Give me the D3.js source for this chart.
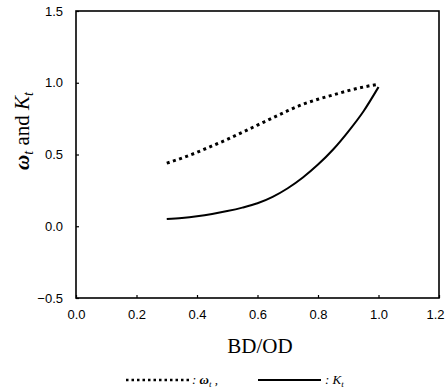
<!DOCTYPE html>
<html>
<head>
<meta charset="utf-8">
<script src="https://cdn.jsdelivr.net/npm/d3@7"></script>
<style>
  body { margin: 0; background: #fff; }
  .axis text { font-family: "Liberation Sans", Arial, sans-serif; font-size: 13px; fill: #000; }
  .axis path { display: none; }
  .axis line { stroke: #000; stroke-width: 1.2; }
</style>
</head>
<body>
<svg id="graph"></svg>
<script>
// values
var bdod   = [0.3, 0.35, 0.4, 0.45, 0.5, 0.55, 0.6, 0.65, 0.7, 0.75, 0.8, 0.85, 0.9, 0.95, 1.0];
var omega  = [0.44, 0.475, 0.515, 0.56, 0.605, 0.655, 0.705, 0.755, 0.805, 0.85, 0.885, 0.915, 0.945, 0.97, 0.99];
var kt     = [0.05, 0.058, 0.07, 0.086, 0.106, 0.13, 0.16, 0.205, 0.265, 0.34, 0.43, 0.535, 0.66, 0.80, 0.97];
var xTicks = [0, 0.2, 0.4, 0.6, 0.8, 1.0, 1.2];
var yTicks = [-0.5, 0, 0.5, 1.0, 1.5];

var svg = d3.select("#graph")
    .attr("width", 445)
    .attr("height", 392);

// plot frame in pixels (note: "top" is taken by window.top, so pTop etc.)
var pLeft = 76, pRight = 439, pTop = 11, pBottom = 298;

var x = d3.scaleLinear().domain([0, 1.2]).range([pLeft, pRight]);
var y = d3.scaleLinear().domain([-0.5, 1.5]).range([pBottom, pTop]);

// frame
svg.append("rect")
    .attr("x", pLeft).attr("y", pTop)
    .attr("width", pRight - pLeft).attr("height", pBottom - pTop)
    .attr("fill", "none").attr("stroke", "#000").attr("stroke-width", 1.6);

// x axis, ticks pointing inward
var gx = svg.append("g")
    .attr("class", "axis")
    .attr("transform", "translate(0," + pBottom + ")")
    .call(d3.axisBottom(x).tickValues(xTicks).tickFormat(d3.format(".1f"))
        .tickSizeInner(-3).tickSizeOuter(0).tickPadding(12));
// last label sits tight to the right edge
gx.selectAll(".tick text").filter(function(d) { return d === 1.2; })
    .attr("dx", -4);

// y axis
svg.append("g")
    .attr("class", "axis")
    .attr("transform", "translate(" + pLeft + ",0)")
    .call(d3.axisLeft(y).tickValues(yTicks).tickFormat(d3.format(".1f"))
        .tickSizeInner(-3).tickSizeOuter(0).tickPadding(13));

// axis titles
svg.append("text")
    .attr("x", 260).attr("y", 353)
    .attr("text-anchor", "middle")
    .style("font-family", "'Liberation Serif', 'Times New Roman', serif")
    .style("font-size", "21px")
    .text("BD/OD");

var yt = svg.append("text")
    .attr("transform", "translate(29,131) rotate(-90)")
    .attr("text-anchor", "middle")
    .style("font-family", "'Liberation Serif', 'Times New Roman', serif")
    .style("font-size", "21px");
yt.append("tspan").style("font-style", "italic").style("font-weight", "bold").text("ω");
yt.append("tspan").attr("dy", 4).style("font-size", "14px").style("font-style", "italic").text("t");
yt.append("tspan").attr("dy", -4).text(" and ");
yt.append("tspan").style("font-style", "italic").text("K");
yt.append("tspan").attr("dy", 4).style("font-size", "14px").style("font-style", "italic").text("t");

// curves
var line = d3.line()
    .x(function(d, i) { return x(bdod[i]); })
    .y(function(d) { return y(d); })
    .curve(d3.curveMonotoneX);

svg.append("path")
    .datum(omega)
    .attr("d", line)
    .attr("fill", "none").attr("stroke", "#000")
    .attr("stroke-width", 3).attr("stroke-dasharray", "3,3.5");

svg.append("path")
    .datum(kt)
    .attr("d", line)
    .attr("fill", "none").attr("stroke", "#000")
    .attr("stroke-width", 2);

// legend
var lg = svg.append("g").attr("transform", "translate(0,380)");
lg.append("line")
    .attr("x1", 126).attr("x2", 189).attr("y1", 0).attr("y2", 0)
    .attr("stroke", "#000").attr("stroke-width", 2.5).attr("stroke-dasharray", "2.5,3");
var l1 = lg.append("text").attr("x", 192).attr("y", 4)
    .style("font-family", "'Liberation Serif', 'Times New Roman', serif")
    .style("font-size", "13px").style("font-style", "italic");
l1.append("tspan").text(": ");
l1.append("tspan").style("font-weight", "bold").text("ω");
l1.append("tspan").attr("dy", 3).style("font-size", "9px").text("t");
l1.append("tspan").attr("dy", -3).text(" ,");

lg.append("line")
    .attr("x1", 258).attr("x2", 321).attr("y1", 0).attr("y2", 0)
    .attr("stroke", "#000").attr("stroke-width", 1.8);
var l2 = lg.append("text").attr("x", 325).attr("y", 4)
    .style("font-family", "'Liberation Serif', 'Times New Roman', serif")
    .style("font-size", "13px").style("font-style", "italic");
l2.append("tspan").text(": K");
l2.append("tspan").attr("dy", 3).style("font-size", "9px").text("t");
</script>
</body>
</html>
